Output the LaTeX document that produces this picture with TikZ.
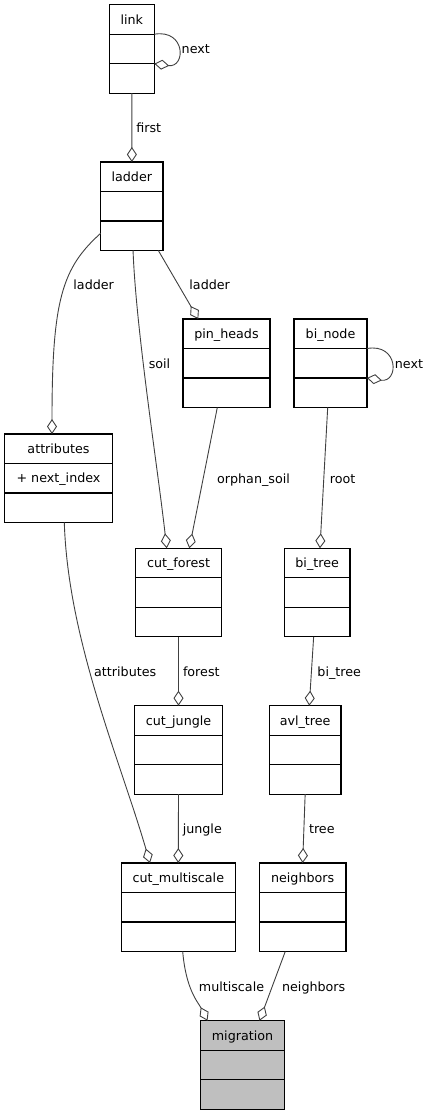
\documentclass[tikz,border=0pt]{standalone}
\usepackage{fontspec}
\setmainfont{DejaVu Sans}
\usepackage{tikz}
\usetikzlibrary{arrows.meta,calc}
\tikzset{
  uml-class/.style={draw=black, line width=1.2pt, inner sep=0pt, outer sep=0pt,
    minimum height=88.5pt, anchor=north west},
  uml-rule/.style={draw=black, line width=1.2pt},
  uml-text/.style={font=\fontsize{12.7}{14}\selectfont, inner sep=0pt,
    text height=9.4pt, text depth=0pt},
  uml-assoc/.style={draw=black!75, line width=0.9pt,
    -{Diamond[open, length=15pt, width=10pt]}}
}
% class box: [fill] name, left, top, width, title
\newcommand{\umlclass}[6][white]{%
  \node[uml-class, fill=#1, minimum width=#5pt] (#2) at (#3,#4) {};
  \node[uml-text] (#2-name) at ($(#2.north)+(0,14.75)$) {#6};
  \draw[uml-rule] ($(#2.north west)+(0,29.5)$) -- ($(#2.north east)+(0,29.5)$);
  \draw[uml-rule] ($(#2.north west)+(0,59)$) -- ($(#2.north east)+(0,59)$);
}

\begin{document}
\begin{tikzpicture}[x=1pt, y=-1pt]
  \useasboundingbox (0,0) rectangle (429,1117);

  % classes
  \umlclass{link}{109.3}{4.7}{45}{link}
  \umlclass{ladder}{100.7}{162}{62.3}{ladder}
  \umlclass{pin_heads}{183}{319}{87}{pin\_heads}
  \umlclass{bi_node}{294}{319}{73}{bi\_node}
  \umlclass{attributes}{4.3}{434}{108.4}{attributes}
  \node[uml-text] (attributes-attr) at ($(attributes.north)+(0,44.25)$) {+ next\_index};
  \umlclass{cut_forest}{135.3}{548.3}{86.4}{cut\_forest}
  \umlclass{bi_tree}{284.3}{548.3}{65.7}{bi\_tree}
  \umlclass{cut_jungle}{134.3}{705.7}{88.4}{cut\_jungle}
  \umlclass{avl_tree}{269.3}{705.7}{71.7}{avl\_tree}
  \umlclass{cut_multiscale}{121.3}{863}{114}{cut\_multiscale}
  \umlclass{neighbors}{259.3}{863}{86.7}{neighbors}
  \umlclass[black!25]{migration}{200.7}{1020.7}{83.6}{migration}

  % self associations
  \draw[uml-assoc] ($(link.east)+(0,-14.75)$) .. controls (186,29) and (186,68) .. ($(link.east)+(0,14.75)$);
  \node[uml-text] (lbl-link-next) at (195.8,48.7) {next};
  \draw[uml-assoc] ($(bi_node.east)+(0,-14.75)$) .. controls (399,343) and (399,383) .. ($(bi_node.east)+(0,14.75)$);
  \node[uml-text] (lbl-bi-next) at (409,363.3) {next};

  % upper part
  \draw[uml-assoc] (link.south) -- (ladder.north);
  \node[uml-text] (lbl-first) at (148.7,127.7) {first};

  \draw[uml-assoc] ($(ladder.west)+(0,27)$) .. controls (62,268) and (52,300) .. ($(attributes.north)+(-6.5,0)$);
  \node[uml-text] (lbl-ladder-a) at (93.7,284.3) {ladder};

  \draw[uml-assoc] ($(ladder.south)+(26.5,0)$) -- ($(pin_heads.north)+(-28.2,0)$);
  \node[uml-text] (lbl-ladder-b) at (209.7,284.3) {ladder};

  \draw[uml-assoc] ($(ladder.south)+(1.2,0)$) .. controls (136,330) and (158,470) .. ($(cut_forest.north)+(-11.8,0)$);
  \node[uml-text] (lbl-soil) at (159.5,363.3) {soil};

  \draw[uml-assoc] ($(pin_heads.south)+(-9.2,0)$) -- ($(cut_forest.north)+(10.8,0)$);
  \node[uml-text] (lbl-orphan) at (253.5,478.3) {orphan\_soil};

  \draw[uml-assoc] ($(bi_node.south)+(-2.8,0)$) -- ($(bi_tree.north)+(2.8,0)$);
  \node[uml-text] (lbl-root) at (342.7,478.3) {root};

  % lower part
  \draw[uml-assoc] ($(attributes.south)+(5.8,0)$) .. controls (68,640) and (120,760) .. ($(cut_multiscale.north)+(-28.3,0)$);
  \node[uml-text] (lbl-attributes) at (125.2,671.3) {attributes};

  \draw[uml-assoc] (cut_forest.south) -- (cut_jungle.north);
  \node[uml-text] (lbl-forest) at (201.3,671.3) {forest};

  \draw[uml-assoc] ($(bi_tree.south)+(-3.5,0)$) -- ($(avl_tree.north)+(4.1,0)$);
  \node[uml-text] (lbl-bi-tree) at (339.2,671.3) {bi\_tree};

  \draw[uml-assoc] (cut_jungle.south) -- (cut_multiscale.north);
  \node[uml-text] (lbl-jungle) at (202.3,828.3) {jungle};

  \draw[uml-assoc] (avl_tree.south) -- (neighbors.north);
  \node[uml-text] (lbl-tree) at (321.8,828.3) {tree};

  \draw[uml-assoc] ($(cut_multiscale.south)+(4.4,0)$) .. controls (186,990) and (198,1002) .. ($(migration.north)+(-35,0)$);
  \node[uml-text] (lbl-multiscale) at (231.5,986.7) {multiscale};

  \draw[uml-assoc] ($(neighbors.south)+(-17.4,0)$) -- ($(migration.north)+(17,0)$);
  \node[uml-text] (lbl-neighbors) at (313.7,986.7) {neighbors};
\end{tikzpicture}
\end{document}
